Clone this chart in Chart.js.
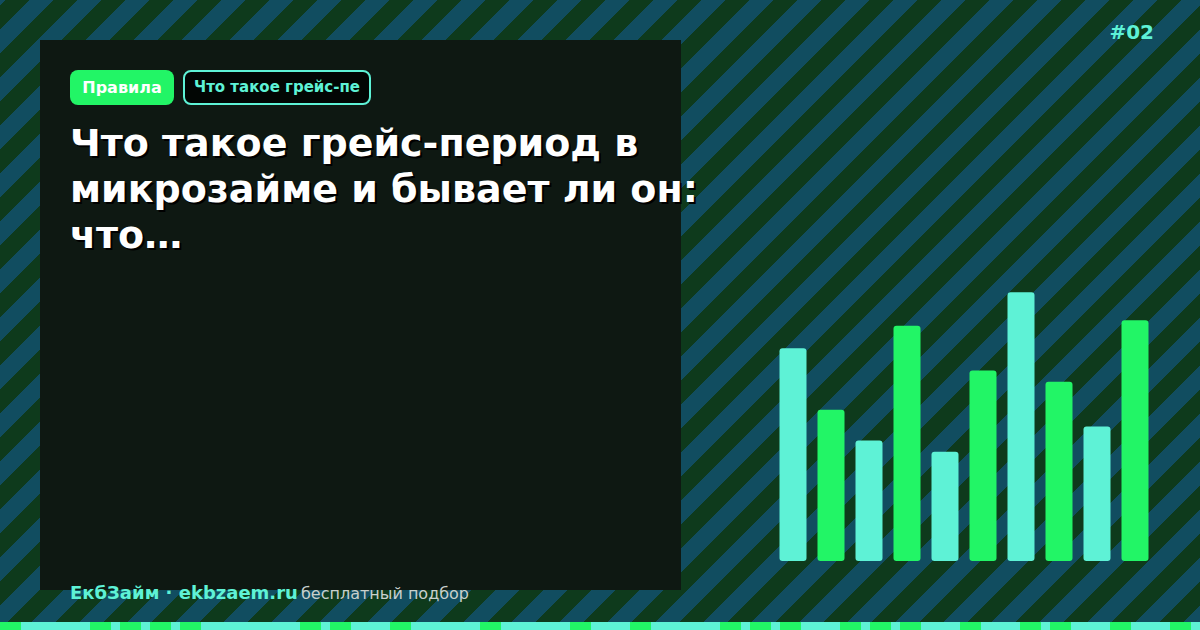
<!DOCTYPE html>
<html lang="ru">
<head>
<meta charset="utf-8">
<title>Грейс-период</title>
<script src="https://cdn.jsdelivr.net/npm/chart.js@4/dist/chart.umd.min.js"></script>
<style>
  html, body { margin: 0; padding: 0; }
  body {
    width: 1200px; height: 630px; overflow: hidden; position: relative;
    font-family: "DejaVu Sans", sans-serif;
    background-color: #0e3a1c;
    background-image: linear-gradient(135deg, #114d60 25%, #0e3a1c 25%, #0e3a1c 50%, #114d60 50%, #114d60 75%, #0e3a1c 75%);
    background-size: 48px 48px;
    background-position: 30px 0;
  }
  .panel {
    position: absolute; left: 40px; top: 40px; width: 641px; height: 550px;
    background: #0e1812;
  }
  .tag {
    position: absolute; top: 70px; height: 35px; box-sizing: border-box;
    border-radius: 8px; font-weight: bold; line-height: 35px; text-align: center;
  }
  .tag1 { left: 70px; width: 104px; background: #22f566; color: #fff; font-size: 16px; }
  .tag2 {
    left: 183px; width: 188px; background: #020604; color: #5ef2d6;
    border: 2px solid #5ef2d6; line-height: 31px; font-size: 15px;
  }
  .title {
    position: absolute; left: 70px; top: 120px; width: 680px;
    color: #fff; font-weight: bold; font-size: 38px; line-height: 46px;
    text-shadow: 2px 2px 0 #000;
  }
  .num {
    position: absolute; right: 46px; top: 20px; color: #5ef2d6;
    font-weight: bold; font-size: 20px;
  }
  .foot { position: absolute; left: 70px; top: 582px; font-size: 16px; color: #c8d0cc; white-space: nowrap; }
  .foot b { color: #5ef2d6; font-size: 18px; margin-right: -2px; }
  #strip { position: absolute; left: 0; top: 622px; width: 1200px; height: 8px; background: #5ef2d6; }
  #strip div { position: absolute; top: 0; width: 21px; height: 8px; background: #22f566; }
  #wrap { position: absolute; left: 774px; top: 281px; width: 380px; height: 280px; }
</style>
</head>
<body>
<div class="panel"></div>
<div class="tag tag1">Правила</div>
<div class="tag tag2">Что такое грейс-пе</div>
<div class="title">Что такое грейс-период в микрозайме и бывает ли он: что…</div>
<div class="num">#02</div>
<div class="foot"><b>ЕкбЗайм · ekbzaem.ru</b> бесплатный подбор</div>
<div id="strip"></div>
<div id="wrap"><canvas id="bars"></canvas></div>
<script>
// bar heights, 0..100
const labels = ['1', '2', '3', '4', '5', '6', '7', '8', '9', '10'];
const values = [76, 54, 43, 84, 39, 68, 96, 64, 48, 86];
const colors = ['#5ef2d6', '#22f566'];

// green cells of the bottom strip (30px cells)
const stripGreen = [0, 3, 4, 5, 6, 10, 11, 13, 16, 19, 21, 24, 25, 26, 28, 29, 30, 32, 34, 35, 37, 39];

const strip = document.getElementById('strip');
stripGreen.forEach(i => {
    const d = document.createElement('div');
    d.style.left = (i * 30) + 'px';
    strip.appendChild(d);
});

new Chart(document.getElementById('bars'), {
    type: 'bar',
    data: {
        labels: labels,
        datasets: [{
            data: values,
            backgroundColor: values.map((v, i) => colors[i % 2]),
            borderRadius: 3,
            borderSkipped: false,
            categoryPercentage: 1,
            barPercentage: 27 / 38
        }]
    },
    options: {
        responsive: true,
        maintainAspectRatio: false,
        animation: false,
        layout: { padding: 0 },
        plugins: { legend: { display: false }, tooltip: { enabled: false } },
        scales: {
            x: { display: false },
            y: { display: false, min: 0, max: 100 }
        }
    }
});
</script>
</body>
</html>
